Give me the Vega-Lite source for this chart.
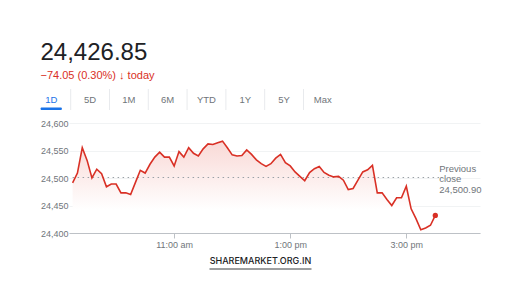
{
  "$schema": "https://vega.github.io/schema/vega-lite/v6.json",
  "background": "white",
  "padding": {"left": 40, "top": 40, "right": 10, "bottom": 5},
  "title": {
    "text": "24,426.85",
    "subtitle": "−74.05 (0.30%) ↓ today",
    "anchor": "start",
    "frame": "bounds",
    "font": "Liberation Sans",
    "fontSize": 24,
    "fontWeight": "normal",
    "color": "#202124",
    "subtitleFont": "Liberation Sans",
    "subtitleFontSize": 11,
    "subtitleColor": "#d93025",
    "subtitlePadding": 5,
    "offset": 8
  },
  "datasets": {
    "nifty": [
      {"t": "2024-01-01T09:15", "v": 24491},
      {"t": "2024-01-01T09:20", "v": 24509},
      {"t": "2024-01-01T09:25", "v": 24555},
      {"t": "2024-01-01T09:30", "v": 24532},
      {"t": "2024-01-01T09:35", "v": 24500},
      {"t": "2024-01-01T09:40", "v": 24516},
      {"t": "2024-01-01T09:45", "v": 24508},
      {"t": "2024-01-01T09:50", "v": 24484},
      {"t": "2024-01-01T09:55", "v": 24489},
      {"t": "2024-01-01T10:00", "v": 24489},
      {"t": "2024-01-01T10:05", "v": 24473},
      {"t": "2024-01-01T10:10", "v": 24473},
      {"t": "2024-01-01T10:15", "v": 24470},
      {"t": "2024-01-01T10:20", "v": 24492},
      {"t": "2024-01-01T10:25", "v": 24514},
      {"t": "2024-01-01T10:30", "v": 24509},
      {"t": "2024-01-01T10:35", "v": 24525},
      {"t": "2024-01-01T10:40", "v": 24538},
      {"t": "2024-01-01T10:45", "v": 24547},
      {"t": "2024-01-01T10:50", "v": 24538},
      {"t": "2024-01-01T10:55", "v": 24538},
      {"t": "2024-01-01T11:00", "v": 24522},
      {"t": "2024-01-01T11:05", "v": 24548},
      {"t": "2024-01-01T11:10", "v": 24538},
      {"t": "2024-01-01T11:15", "v": 24555},
      {"t": "2024-01-01T11:20", "v": 24545},
      {"t": "2024-01-01T11:25", "v": 24540},
      {"t": "2024-01-01T11:30", "v": 24553},
      {"t": "2024-01-01T11:35", "v": 24562},
      {"t": "2024-01-01T11:40", "v": 24561},
      {"t": "2024-01-01T11:45", "v": 24564},
      {"t": "2024-01-01T11:50", "v": 24567},
      {"t": "2024-01-01T11:55", "v": 24555},
      {"t": "2024-01-01T12:00", "v": 24542},
      {"t": "2024-01-01T12:05", "v": 24540},
      {"t": "2024-01-01T12:10", "v": 24541},
      {"t": "2024-01-01T12:15", "v": 24551},
      {"t": "2024-01-01T12:20", "v": 24543},
      {"t": "2024-01-01T12:25", "v": 24533},
      {"t": "2024-01-01T12:30", "v": 24526},
      {"t": "2024-01-01T12:35", "v": 24521},
      {"t": "2024-01-01T12:40", "v": 24526},
      {"t": "2024-01-01T12:45", "v": 24536},
      {"t": "2024-01-01T12:50", "v": 24543},
      {"t": "2024-01-01T12:55", "v": 24528},
      {"t": "2024-01-01T13:00", "v": 24522},
      {"t": "2024-01-01T13:05", "v": 24511},
      {"t": "2024-01-01T13:10", "v": 24503},
      {"t": "2024-01-01T13:15", "v": 24495},
      {"t": "2024-01-01T13:20", "v": 24510},
      {"t": "2024-01-01T13:25", "v": 24517},
      {"t": "2024-01-01T13:30", "v": 24521},
      {"t": "2024-01-01T13:35", "v": 24510},
      {"t": "2024-01-01T13:40", "v": 24505},
      {"t": "2024-01-01T13:45", "v": 24502},
      {"t": "2024-01-01T13:50", "v": 24503},
      {"t": "2024-01-01T13:55", "v": 24496},
      {"t": "2024-01-01T14:00", "v": 24479},
      {"t": "2024-01-01T14:05", "v": 24481},
      {"t": "2024-01-01T14:10", "v": 24496},
      {"t": "2024-01-01T14:15", "v": 24511},
      {"t": "2024-01-01T14:20", "v": 24515},
      {"t": "2024-01-01T14:25", "v": 24523},
      {"t": "2024-01-01T14:30", "v": 24473},
      {"t": "2024-01-01T14:35", "v": 24473},
      {"t": "2024-01-01T14:40", "v": 24461},
      {"t": "2024-01-01T14:45", "v": 24450},
      {"t": "2024-01-01T14:50", "v": 24464},
      {"t": "2024-01-01T14:55", "v": 24464},
      {"t": "2024-01-01T15:00", "v": 24485},
      {"t": "2024-01-01T15:05", "v": 24444},
      {"t": "2024-01-01T15:10", "v": 24426},
      {"t": "2024-01-01T15:15", "v": 24406},
      {"t": "2024-01-01T15:20", "v": 24409},
      {"t": "2024-01-01T15:25", "v": 24414},
      {"t": "2024-01-01T15:30", "v": 24432}
    ],
    "last": [{"t": "2024-01-01T15:30", "v": 24432}],
    "prev": [{"t": "2024-01-01T09:15", "t2": "2024-01-01T15:34", "v": 24500.9, "label": "Previous\nclose\n24,500.90"}],
    "tabs": [
      {"tab": "1D"}, {"tab": "5D"}, {"tab": "1M"}, {"tab": "6M"},
      {"tab": "YTD"}, {"tab": "1Y"}, {"tab": "5Y"}, {"tab": "Max"}
    ]
  },
  "spacing": 8,
  "vconcat": [
    {
      "width": 293,
      "height": 21,
      "data": {"name": "tabs"},
      "encoding": {
        "x": {
          "field": "tab",
          "type": "nominal",
          "sort": null,
          "axis": null,
          "scale": {"paddingInner": 0.448, "paddingOuter": 0}
        }
      },
      "layer": [
        {
          "transform": [{"filter": "datum.tab !== 'Max'"}],
          "mark": {"type": "rule", "color": "#e8eaed", "strokeWidth": 1, "xOffset": -28.5},
          "encoding": {"x": {"field": "tab", "type": "nominal", "sort": null, "bandPosition": 1.41}}
        },
        {
          "mark": {"type": "text", "font": "Liberation Sans", "fontSize": 9.5, "baseline": "middle", "align": "center", "xOffset": -28.5},
          "encoding": {
            "text": {"field": "tab"},
            "color": {"condition": {"test": "datum.tab === '1D'", "value": "#1a73e8"}, "value": "#70757a"}
          }
        },
        {
          "transform": [{"filter": "datum.tab === '1D'"}],
          "mark": {"type": "bar", "color": "#1a73e8", "cornerRadius": 1.5, "xOffset": -28.5},
          "encoding": {
            "y": {"datum": 0, "type": "quantitative", "scale": {"domain": [0, 1]}, "axis": null},
            "y2": {"datum": 0.12}
          }
        }
      ]
    },
    {
      "width": 411,
      "height": 110,
      "encoding": {
        "x": {
          "field": "t",
          "type": "temporal",
          "scale": {
            "domain": [
              {"year": 2024, "month": 1, "date": 1, "hours": 9, "minutes": 11, "seconds": 17},
              {"year": 2024, "month": 1, "date": 1, "hours": 16, "minutes": 16, "seconds": 12}
            ]
          },
          "axis": {
            "title": null,
            "values": [
              {"year": 2024, "month": 1, "date": 1, "hours": 11},
              {"year": 2024, "month": 1, "date": 1, "hours": 13},
              {"year": 2024, "month": 1, "date": 1, "hours": 15}
            ],
            "labelExpr": "lower(timeFormat(datum.value, '%-I:%M %p'))",
            "grid": false,
            "domainColor": "#bdc1c6",
            "tickColor": "#bdc1c6",
            "tickSize": 5,
            "labelPadding": 2,
            "labelFont": "Liberation Sans",
            "labelFontSize": 9,
            "labelColor": "#70757a"
          }
        },
        "y": {
          "field": "v",
          "type": "quantitative",
          "scale": {"domain": [24400, 24600], "zero": false, "nice": false},
          "axis": {
            "title": null,
            "values": [24400, 24450, 24500, 24550, 24600],
            "format": ",.0f",
            "domain": false,
            "ticks": false,
            "labelPadding": 1,
            "labelFont": "Liberation Sans",
            "labelFontSize": 9,
            "labelColor": "#70757a",
            "gridColor": "#f1f3f4"
          }
        }
      },
      "layer": [
        {
          "data": {"name": "nifty"},
          "mark": {
            "type": "area",
            "color": {
              "gradient": "linear",
              "x1": 0, "y1": 0, "x2": 0, "y2": 1,
              "stops": [
                {"offset": 0, "color": "#f9d9d6"},
                {"offset": 0.75, "color": "#ffffff"}
              ]
            },
            "opacity": 1
          },
          "encoding": {
            "y2": {"datum": 24400}
          }
        },
        {
          "data": {"name": "prev"},
          "mark": {"type": "rule", "color": "#9aa0a6", "strokeDash": [1.5, 3.5], "strokeWidth": 1},
          "encoding": {
            "x2": {"field": "t2"}
          }
        },
        {
          "data": {"name": "nifty"},
          "mark": {"type": "line", "color": "#d93025", "strokeWidth": 1.6},
          "encoding": {}
        },
        {
          "data": {"name": "last"},
          "mark": {"type": "point", "filled": true, "color": "#d93025", "size": 28, "opacity": 1},
          "encoding": {}
        },
        {
          "data": {"name": "prev"},
          "mark": {
            "type": "text",
            "align": "left",
            "baseline": "middle",
            "font": "Liberation Sans",
            "fontSize": 9.5,
            "lineHeight": 10.5,
            "lineBreak": "\n",
            "color": "#70757a",
            "dx": 0,
            "dy": -9
          },
          "encoding": {
            "x": {"field": "t2", "type": "temporal"},
            "text": {"field": "label"}
          }
        }
      ]
    },
    {
      "width": 383,
      "height": 20,
      "data": {"values": [{"site": "SHAREMARKET.ORG.IN"}]},
      "layer": [
        {
          "mark": {"type": "text", "font": "Inter", "fontSize": 9, "fontWeight": 500, "color": "#202124", "baseline": "alphabetic", "align": "center", "dy": -5},
          "encoding": {"text": {"field": "site"}}
        },
        {
          "mark": {"type": "tick", "orient": "horizontal", "size": 102, "thickness": 1.2, "color": "#3c4043", "opacity": 1},
          "encoding": {}
        }
      ]
    }
  ],
  "config": {
    "view": {"stroke": null}
  }
}
